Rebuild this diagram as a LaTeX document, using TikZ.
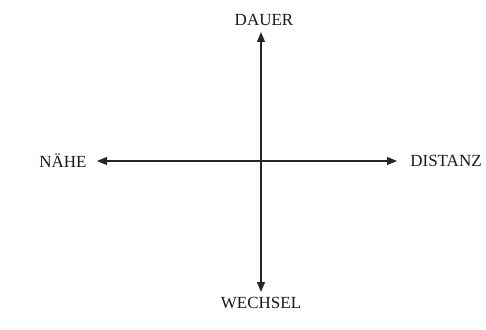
\documentclass[tikz,border=0pt]{standalone}
\usepackage{fontspec}
\setmainfont{Liberation Serif}
\usetikzlibrary{arrows.meta}
\begin{document}
\begin{tikzpicture}[x=1pt,y=-1pt,
  lbl/.style={font=\fontsize{17}{20}\selectfont, text=black!90, inner sep=0pt},
  axis/.style={line width=1.1pt, black!85, -{Triangle[length=10pt,width=8pt]}}]
\useasboundingbox (0,0) rectangle (486,329);
\coordinate (o) at (261,161);
\coordinate (top) at (261,32);
\coordinate (bot) at (261,292);
\coordinate (lft) at (97,161);
\coordinate (rgt) at (397,161);
\node[lbl] (dauer) at (264,20) {DAUER};
\node[lbl] (wechsel) at (261,303) {WECHSEL};
\node[lbl] (naehe) at (63,161) {NÄHE};
\node[lbl] (distanz) at (446,161) {DISTANZ};
\draw[axis] (o) -- (top);
\draw[axis] (o) -- (bot);
\draw[axis] (o) -- (lft);
\draw[axis] (o) -- (rgt);
\end{tikzpicture}
\end{document}
